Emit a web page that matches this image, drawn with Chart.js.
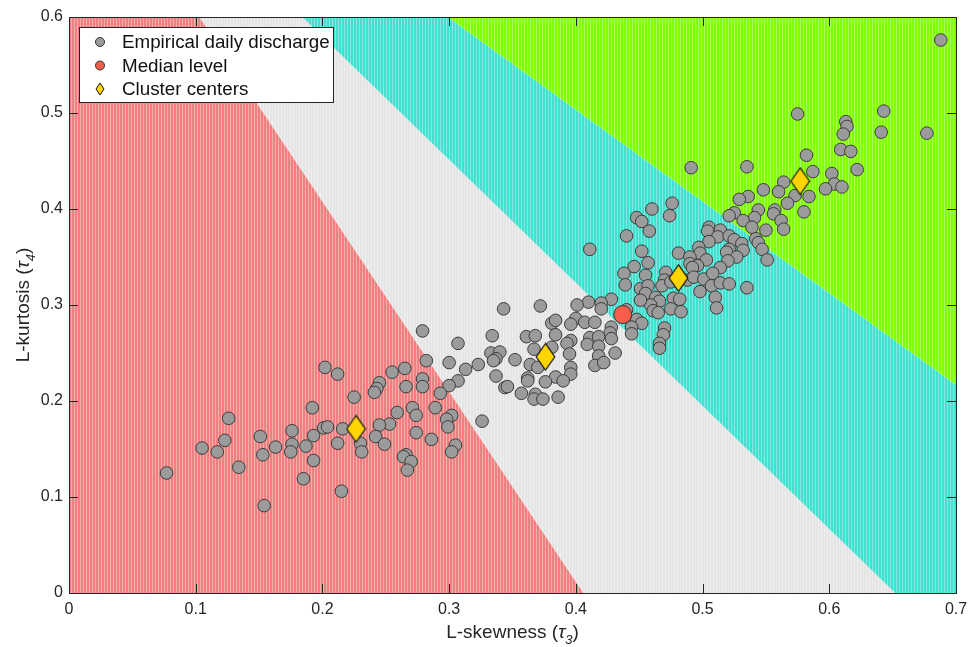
<!DOCTYPE html>
<html>
<head>
<meta charset="utf-8">
<script src="https://cdn.jsdelivr.net/npm/chart.js@4/dist/chart.umd.min.js"></script>
<style>
  html, body { margin: 0; padding: 0; background: #ffffff; }
  #wrap { width: 971px; height: 647px; }
</style>
</head>
<body>
<div id="wrap"><canvas id="chart" width="971" height="647"></canvas></div>
<script>
// Axis ticks
const xTicks = [0, 0.1, 0.2, 0.3, 0.4, 0.5, 0.6, 0.7];
const yTicks = [0, 0.1, 0.2, 0.3, 0.4, 0.5, 0.6];

// Class boundaries in the (tau3, tau4) plane, each as two end points
const boundaryRedGrey   = [[0.406, 0], [0.103, 0.6]];
const boundaryGreyCyan  = [[0.652, 0], [0.184, 0.6]];
const boundaryCyanGreen = [[0.7, 0.217], [0.299, 0.6]];

// Empirical daily discharge: L-skewness (tau3)
const skewness = [
  0.202, 0.192, 0.126, 0.123, 0.105, 0.117, 0.151, 0.163, 0.153, 0.176,
  0.176, 0.175, 0.187, 0.193, 0.201, 0.204, 0.193, 0.185, 0.134, 0.077,
  0.154,
  0.343, 0.372, 0.279, 0.307, 0.334, 0.361, 0.368, 0.381, 0.384, 0.384,
  0.367, 0.381, 0.333, 0.340, 0.337, 0.335, 0.352, 0.364, 0.370, 0.384,
  0.362, 0.362, 0.376, 0.337, 0.300, 0.323, 0.313, 0.282, 0.307, 0.300,
  0.293, 0.344, 0.346, 0.357, 0.368, 0.367, 0.374, 0.386, 0.212, 0.225,
  0.255, 0.265, 0.245, 0.243, 0.241, 0.266, 0.279, 0.279, 0.289, 0.271,
  0.274, 0.259, 0.302, 0.298, 0.326, 0.253,
  0.245, 0.216, 0.230, 0.231, 0.242, 0.249, 0.274, 0.286, 0.299, 0.305,
  0.302, 0.266, 0.264, 0.270, 0.267, 0.212, 0.215,
  0.476, 0.460, 0.474, 0.448, 0.452, 0.458, 0.440, 0.411, 0.452, 0.481,
  0.505, 0.504, 0.514, 0.512, 0.505, 0.521, 0.525, 0.521, 0.519, 0.531,
  0.532, 0.527, 0.520, 0.514, 0.497, 0.498, 0.503, 0.490, 0.490, 0.496,
  0.492, 0.457, 0.446, 0.438, 0.455, 0.439, 0.451, 0.457, 0.471, 0.470,
  0.468, 0.475, 0.488, 0.493, 0.501, 0.508, 0.507, 0.514, 0.521, 0.498,
  0.510, 0.535, 0.511, 0.455, 0.463, 0.466, 0.477, 0.482, 0.459, 0.461,
  0.465, 0.475, 0.483, 0.451, 0.428, 0.420, 0.420, 0.410, 0.401, 0.440,
  0.448, 0.452, 0.444, 0.444, 0.470, 0.469, 0.466, 0.466, 0.400, 0.407,
  0.415, 0.396, 0.428, 0.427, 0.428, 0.396, 0.411, 0.418, 0.409, 0.418,
  0.393, 0.395, 0.431, 0.418,
  0.396, 0.396, 0.390, 0.415, 0.422,
  0.688, 0.575, 0.643, 0.613, 0.614, 0.611, 0.641, 0.677, 0.609, 0.617,
  0.582, 0.491, 0.535, 0.622, 0.587, 0.602, 0.564, 0.604, 0.610, 0.597,
  0.548, 0.560, 0.573, 0.584, 0.567, 0.536, 0.529, 0.544, 0.557, 0.556,
  0.580, 0.525, 0.521, 0.541, 0.532, 0.562, 0.564, 0.539, 0.550, 0.542,
  0.544, 0.547, 0.551
];

// Empirical daily discharge: L-kurtosis (tau4)
const kurtosis = [
  0.235, 0.193, 0.182, 0.159, 0.151, 0.147, 0.163, 0.152, 0.144, 0.169,
  0.155, 0.147, 0.153, 0.164, 0.172, 0.173, 0.138, 0.119, 0.131, 0.125,
  0.091,
  0.296, 0.299, 0.273, 0.260, 0.268, 0.267, 0.268, 0.281, 0.284, 0.269,
  0.254, 0.256, 0.250, 0.251, 0.244, 0.242, 0.243, 0.238, 0.235, 0.225,
  0.224, 0.221, 0.220, 0.226, 0.240, 0.238, 0.233, 0.242, 0.221, 0.216,
  0.208, 0.214, 0.215, 0.208, 0.207, 0.202, 0.202, 0.204, 0.228, 0.204,
  0.230, 0.234, 0.219, 0.213, 0.209, 0.215, 0.223, 0.215, 0.193, 0.193,
  0.185, 0.188, 0.185, 0.181, 0.179, 0.176,
  0.175, 0.171, 0.156, 0.147, 0.163, 0.155, 0.167, 0.160, 0.173, 0.154,
  0.147, 0.144, 0.142, 0.137, 0.128, 0.156, 0.106,
  0.406, 0.400, 0.393, 0.391, 0.387, 0.377, 0.372, 0.358, 0.356, 0.354,
  0.381, 0.377, 0.378, 0.371, 0.366, 0.372, 0.368, 0.358, 0.355, 0.364,
  0.357, 0.350, 0.346, 0.339, 0.360, 0.354, 0.347, 0.350, 0.343, 0.341,
  0.339, 0.344, 0.340, 0.333, 0.331, 0.321, 0.317, 0.320, 0.334, 0.326,
  0.320, 0.324, 0.326, 0.329, 0.327, 0.333, 0.320, 0.323, 0.322, 0.314,
  0.308, 0.318, 0.297, 0.312, 0.308, 0.304, 0.307, 0.306, 0.300, 0.294,
  0.292, 0.296, 0.293, 0.305, 0.306, 0.302, 0.296, 0.303, 0.300, 0.295,
  0.285, 0.281, 0.277, 0.270, 0.276, 0.269, 0.260, 0.255, 0.286, 0.282,
  0.282, 0.280, 0.277, 0.271, 0.265, 0.263, 0.266, 0.267, 0.259, 0.257,
  0.260, 0.249, 0.250, 0.247,
  0.235, 0.228, 0.221, 0.237, 0.240,
  0.576, 0.499, 0.502, 0.491, 0.486, 0.478, 0.480, 0.479, 0.462, 0.460,
  0.456, 0.443, 0.444, 0.441, 0.439, 0.437, 0.428, 0.426, 0.423, 0.421,
  0.420, 0.418, 0.414, 0.413, 0.406, 0.413, 0.410, 0.399, 0.399, 0.395,
  0.397, 0.396, 0.393, 0.391, 0.388, 0.388, 0.379, 0.381, 0.378, 0.369,
  0.365, 0.358, 0.347
];

// Median level of the record
const medianSkew = [0.437];
const medianKurt = [0.290];

// Cluster centres
const centerSkew = [0.2265, 0.376, 0.481, 0.577];
const centerKurt = [0.171, 0.246, 0.328, 0.429];

const zip = (xs, ys) => xs.map((x, i) => ({ x: x, y: ys[i] }));

// Regions between the boundaries (polygons in data units)
const regions = [
  { base: [240, 128, 128], poly: [[0, 0], boundaryRedGrey[0], boundaryRedGrey[1], [0, 0.6]] },
  { base: [229, 229, 229], poly: [boundaryRedGrey[0], boundaryGreyCyan[0], boundaryGreyCyan[1], boundaryRedGrey[1]] },
  { base: [64, 224, 208], poly: [boundaryGreyCyan[0], [0.7, 0], boundaryCyanGreen[0], boundaryCyanGreen[1], boundaryGreyCyan[1]] },
  { base: [127, 255, 0], poly: [boundaryCyanGreen[1], boundaryCyanGreen[0], [0.7, 0.6]] }
];

const FONT = '"Liberation Sans", Arial, Helvetica, sans-serif';
const INK = '#262626';

function stripePattern(ctx, rgb) {
  const c = document.createElement('canvas');
  c.width = 3; c.height = 1;
  const g = c.getContext('2d');
  const light = rgb.map(v => Math.round(v + (255 - v) * 0.35));
  g.fillStyle = `rgb(${rgb.join(',')})`;
  g.fillRect(0, 0, 3, 1);
  g.fillStyle = `rgb(${light.join(',')})`;
  g.fillRect(2, 0, 1, 1);
  return ctx.createPattern(c, 'repeat');
}

function diamondCanvas(w, h, lw) {
  const c = document.createElement('canvas');
  c.width = w; c.height = h;
  const g = c.getContext('2d');
  g.beginPath();
  g.moveTo(w / 2, lw);
  g.lineTo(w - lw, h / 2);
  g.lineTo(w / 2, h - lw);
  g.lineTo(lw, h / 2);
  g.closePath();
  g.fillStyle = '#ffd400';
  g.fill();
  g.lineWidth = lw;
  g.strokeStyle = '#111111';
  g.stroke();
  return c;
}

const centerMarker = diamondCanvas(21, 29, 1.2);
const centerLegendMarker = diamondCanvas(10, 14, 1);

const regionPlugin = {
  id: 'regions',
  beforeDatasetsDraw(chart) {
    const { ctx, chartArea: a, scales: { x, y } } = chart;
    ctx.save();
    ctx.beginPath();
    ctx.rect(a.left, a.top, a.right - a.left, a.bottom - a.top);
    ctx.clip();
    regions.forEach(r => {
      ctx.beginPath();
      r.poly.forEach((p, i) => {
        const px = x.getPixelForValue(p[0]);
        const py = y.getPixelForValue(p[1]);
        if (i === 0) ctx.moveTo(px, py); else ctx.lineTo(px, py);
      });
      ctx.closePath();
      ctx.fillStyle = stripePattern(ctx, r.base);
      ctx.fill();
    });
    ctx.restore();
  }
};

const framePlugin = {
  id: 'frame',
  afterDatasetsDraw(chart) {
    const { ctx, chartArea: a, scales: { x, y } } = chart;
    const tl = 9;
    ctx.save();
    ctx.strokeStyle = INK;
    ctx.lineWidth = 1;
    ctx.beginPath();
    xTicks.forEach(v => {
      const px = Math.round(x.getPixelForValue(v)) + 0.5;
      ctx.moveTo(px, a.bottom); ctx.lineTo(px, a.bottom - tl);
      ctx.moveTo(px, a.top); ctx.lineTo(px, a.top + tl);
    });
    yTicks.forEach(v => {
      const py = Math.round(y.getPixelForValue(v)) + 0.5;
      ctx.moveTo(a.left, py); ctx.lineTo(a.left + tl, py);
      ctx.moveTo(a.right, py); ctx.lineTo(a.right - tl, py);
    });
    ctx.stroke();
    ctx.strokeRect(Math.round(a.left) + 0.5, Math.round(a.top) + 0.5,
                   Math.round(a.right - a.left), Math.round(a.bottom - a.top));
    ctx.restore();

    // axis titles with italic tau and subscript index
    drawTitle(ctx, 'L-skewness (', '3', (a.left + a.right) / 2, 633, 0);
    drawTitle(ctx, 'L-kurtosis (', '4', 24, (a.top + a.bottom) / 2, -Math.PI / 2);

    drawLegend(ctx, a);
  }
};

function drawTitle(ctx, prefix, sub, cx, cy, rot) {
  const size = 19;
  const subSize = 13;
  ctx.save();
  ctx.translate(cx, cy);
  ctx.rotate(rot);
  ctx.fillStyle = INK;
  ctx.textBaseline = 'middle';
  ctx.textAlign = 'left';
  ctx.font = `${size}px ${FONT}`;
  const w1 = ctx.measureText(prefix).width;
  const wc = ctx.measureText(')').width;
  ctx.font = `italic ${size}px ${FONT}`;
  const wt = ctx.measureText('\u03c4').width;
  ctx.font = `italic ${subSize}px ${FONT}`;
  const ws = ctx.measureText(sub).width;
  let px = -(w1 + wt + ws + wc) / 2;
  ctx.font = `${size}px ${FONT}`;
  ctx.fillText(prefix, px, 0); px += w1;
  ctx.font = `italic ${size}px ${FONT}`;
  ctx.fillText('\u03c4', px, 0); px += wt;
  ctx.font = `italic ${subSize}px ${FONT}`;
  ctx.fillText(sub, px, 7); px += ws;
  ctx.font = `${size}px ${FONT}`;
  ctx.fillText(')', px, 0);
  ctx.restore();
}

function drawLegend(ctx, a) {
  const left = 79.5, top = 27.5, w = 254, h = 75;
  ctx.save();
  ctx.fillStyle = '#ffffff';
  ctx.fillRect(left, top, w, h);
  ctx.strokeStyle = INK;
  ctx.lineWidth = 1;
  ctx.strokeRect(left, top, w, h);
  const rows = [
    { label: 'Empirical daily discharge', y: 42, kind: 'grey' },
    { label: 'Median level', y: 65.5, kind: 'median' },
    { label: 'Cluster centers', y: 89, kind: 'center' }
  ];
  rows.forEach(r => {
    const mx = 100;
    if (r.kind === 'center') {
      ctx.drawImage(centerLegendMarker, mx - 5, r.y - 7);
    } else {
      ctx.beginPath();
      ctx.arc(mx, r.y, 4.5, 0, Math.PI * 2);
      ctx.fillStyle = r.kind === 'grey' ? '#9b9b9b' : '#f65e4b';
      ctx.fill();
      ctx.strokeStyle = '#333333';
      ctx.lineWidth = 1;
      ctx.stroke();
    }
    ctx.fillStyle = '#111111';
    ctx.font = `18.8px ${FONT}`;
    ctx.textBaseline = 'middle';
    ctx.textAlign = 'left';
    ctx.fillText(r.label, 122, r.y + 1);
  });
  ctx.restore();
}

new Chart(document.getElementById('chart'), {
  type: 'scatter',
  data: {
    datasets: [
      {
        label: 'Cluster centers',
        data: zip(centerSkew, centerKurt),
        pointStyle: centerMarker,
        pointRadius: 14,
        order: 1
      },
      {
        label: 'Median level',
        data: zip(medianSkew, medianKurt),
        pointRadius: 9,
        backgroundColor: '#f65e4b',
        borderColor: '#333333',
        borderWidth: 1,
        order: 2
      },
      {
        label: 'Empirical daily discharge',
        data: zip(skewness, kurtosis),
        pointRadius: 6.3,
        backgroundColor: '#9b9b9b',
        borderColor: '#3c3c3c',
        borderWidth: 1,
        order: 3
      }
    ]
  },
  options: {
    responsive: false,
    devicePixelRatio: 1,
    animation: false,
    events: [],
    layout: { padding: { top: 17, right: 11, left: 0, bottom: 0 } },
    plugins: {
      legend: { display: false },
      tooltip: { enabled: false },
      title: { display: false }
    },
    scales: {
      x: {
        type: 'linear',
        min: 0, max: 0.7,
        grid: { display: false, drawTicks: false },
        border: { display: false },
        afterBuildTicks: s => { s.ticks = xTicks.map(v => ({ value: v })); },
        afterFit: s => { s.height = 54; s.paddingLeft = 0; s.paddingRight = 0; },
        ticks: {
          padding: 7,
          color: INK,
          font: { family: FONT, size: 16 },
          maxRotation: 0,
          callback: v => String(v)
        }
      },
      y: {
        type: 'linear',
        min: 0, max: 0.6,
        grid: { display: false, drawTicks: false },
        border: { display: false },
        afterBuildTicks: s => { s.ticks = yTicks.map(v => ({ value: v })); },
        afterFit: s => { s.width = 69; s.paddingTop = 0; s.paddingBottom = 0; },
        ticks: {
          padding: 6,
          color: INK,
          font: { family: FONT, size: 16 },
          callback: v => String(v)
        }
      }
    }
  },
  plugins: [regionPlugin, framePlugin]
});
</script>
</body>
</html>
